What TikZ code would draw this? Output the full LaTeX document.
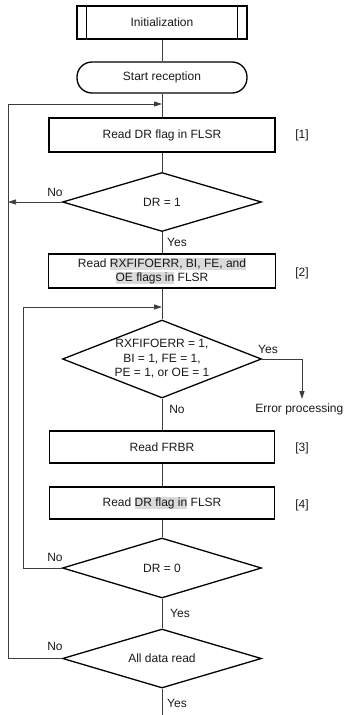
\documentclass[tikz,border=0pt]{standalone}
\usepackage{fontspec}
\setmainfont{Liberation Sans}
\usepackage{xcolor}
\usetikzlibrary{shapes.geometric,arrows.meta}
\definecolor{hlgray}{RGB}{218,218,218}
\definecolor{linegray}{RGB}{60,60,60}
\newcommand\hlt[1]{{\setlength{\fboxsep}{0pt}\colorbox{hlgray}{\rule[-3pt]{0pt}{12.5pt}#1}}}
\tikzset{
  box/.style={draw=black, line width=1.3pt, rectangle, inner sep=0pt, align=center, minimum width=226pt, minimum height=33pt},
  term/.style={draw=black, line width=1.3pt, rectangle, rounded corners=15pt, inner sep=0pt, minimum width=170pt, minimum height=31pt},
  dec/.style={draw=black, line width=1.3pt, diamond, shape aspect=2.6, inner sep=0pt, align=center, minimum width=199pt},
  conn/.style={draw=linegray, line width=0.75pt},
  arr/.style={conn, -{Triangle[length=8pt,width=5pt]}},
  lbl/.style={inner sep=0pt, font=\fontsize{12}{14}\selectfont},
}
\begin{document}
\begin{tikzpicture}[x=1pt,y=-1pt, every node/.style={font=\fontsize{12}{14}\selectfont, text=black!90}]
\useasboundingbox (0,0) rectangle (344,715);
\clip (0,0) rectangle (344,715);
% nodes
\node[draw=black, line width=1.3pt, rectangle, minimum width=170pt, minimum height=33pt, inner sep=0pt] (init) at (162,22.5) {Initialization};
\draw[line width=1.0pt] ([xshift=10pt]init.north west) -- ([xshift=10pt]init.south west);
\draw[line width=1.0pt] ([xshift=-10pt]init.north east) -- ([xshift=-10pt]init.south east);
\node[term] (start) at (162,77.5) {Start reception};
\node[box, minimum height=34pt] (b1) at (162,135) {Read DR flag in FLSR};
\node[lbl] (l1) at (302,135) {[1]};
\node[dec, minimum height=59pt] (d1) at (162,202) {DR = 1};
\node[box, minimum height=34pt, minimum width=227pt] (b2) at (162,271) {Read \hlt{RXFIFOERR, BI, FE, and}\\\hlt{OE flags in} FLSR};
\node[lbl] (l2) at (302,273) {[2]};
\node[dec, minimum height=78pt, font=\fontsize{12}{14.5}\selectfont] (d2) at (162,359) {RXFIFOERR = 1,\\BI = 1, FE = 1,\\PE = 1, or OE = 1};
\node[box, minimum height=32pt, minimum width=225pt] (b3) at (162,447) {Read FRBR};
\node[lbl] (l3) at (302,448) {[3]};
\node[box, minimum height=32pt, minimum width=225pt] (b4) at (162,503) {Read \hlt{DR flag in} FLSR};
\node[lbl] (l4) at (302,505) {[4]};
\node[dec, minimum height=60pt] (d3) at (162,568) {DR = 0};
\node[dec, minimum height=59pt] (d4) at (162,658.5) {All data read};
\node[lbl, anchor=east] (err) at (343.5,409.5) {Error processing};
% coordinates
\coordinate (oL) at (8,104);
\coordinate (iL) at (23,307);
\coordinate (eT) at (302,399);
\coordinate (bot) at (162,715);
% labels
\node[lbl] (n1) at (55,192) {No};
\node[lbl] (y1) at (177,242) {Yes};
\node[lbl] (y2) at (268,349) {Yes};
\node[lbl] (n2) at (177,409.5) {No};
\node[lbl] (n3) at (55,557) {No};
\node[lbl] (y3) at (180,613) {Yes};
\node[lbl] (n4) at (55,646) {No};
\node[lbl] (y4) at (177,703) {Yes};
% connectors
\draw[conn] (init.south) -- (start.north);
\draw[conn] (start.south) -- (b1.north);
\draw[conn] (b1.south) -- (d1.north);
\draw[arr] (d1.west) -- (oL |- d1.west);
\draw[conn] (d1.south) -- (b2.north);
\draw[conn] (b2.south) -- (d2.north);
\draw[arr] (d2.east) -| (eT);
\draw[conn] (d2.south) -- (b3.north);
\draw[conn] (b3.south) -- (b4.north);
\draw[conn] (b4.south) -- (d3.north);
\draw[conn] (d3.south) -- (d4.north);
\draw[conn] (d4.south) -- (bot);
\draw[conn] (d3.west) -| (iL);
\draw[arr] (iL) -- (iL -| b2.south);
\draw[conn] (d4.west) -| (oL);
\draw[arr] (oL) -- (oL -| start.south);
\end{tikzpicture}
\end{document}
